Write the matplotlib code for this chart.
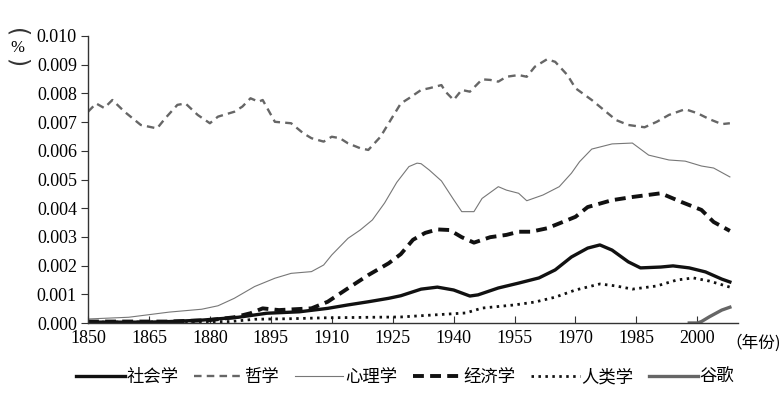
import matplotlib
matplotlib.use("Agg")
import matplotlib.pyplot as plt

plt.rcParams['font.family'] = ['Liberation Serif', 'Noto Sans CJK SC', 'DejaVu Sans']

# ---- data (values in %) ----
phil_years = [1850,1852,1854,1856,1859,1863,1867,1869,1872,1874,1877,1880,1882,1886,1888,1890,1892,1893,
              1896,1900,1903,1905,1908,1910,1912,1914,1917,1919,1922,1925,1927,1929,1932,1934,1937,1938,
              1940,1942,1944,1947,1949,1951,1953,1956,1958,1960,1963,1965,1968,1970,1974,1977,1980,1983,
              1987,1990,1993,1997,2000,2003,2006,2008]
phil_vals = [0.00736,0.00765,0.00749,0.00777,0.00736,0.00690,0.00678,0.00713,0.00760,0.00765,0.00725,
             0.00696,0.00719,0.00736,0.00754,0.00783,0.00771,0.00777,0.00701,0.00696,0.00661,0.00644,
             0.00632,0.00649,0.00644,0.00626,0.00609,0.00603,0.00649,0.00719,0.00765,0.00783,0.00812,
             0.00818,0.00829,0.00806,0.00777,0.00812,0.00806,0.00849,0.00847,0.00841,0.00858,0.00864,
             0.00858,0.00893,0.00919,0.00910,0.00864,0.00818,0.00777,0.00742,0.00707,0.00690,0.00682,
             0.00701,0.00725,0.00745,0.00731,0.00710,0.00693,0.00696]

psych_years = [1850,1860,1870,1878,1882,1886,1891,1896,1900,1905,1908,1910,1914,1917,1920,1923,1926,1929,
               1931,1932,1934,1937,1940,1942,1945,1947,1951,1953,1956,1958,1962,1966,1969,1971,1974,1979,
               1984,1988,1993,1997,2001,2004,2008]
psych_vals = [0.00014,0.00020,0.00038,0.00048,0.00060,0.00086,0.00127,0.00156,0.00173,0.00179,0.00202,
              0.00237,0.00295,0.00324,0.00359,0.00418,0.00490,0.00545,0.00557,0.00555,0.00533,0.00495,
              0.00430,0.00388,0.00388,0.00434,0.00475,0.00463,0.00452,0.00426,0.00446,0.00475,0.00522,
              0.00562,0.00606,0.00624,0.00627,0.00585,0.00568,0.00564,0.00547,0.00540,0.00509]

econ_years = [1850,1870,1880,1886,1890,1893,1897,1905,1909,1914,1919,1924,1927,1930,1933,1936,1939,1942,
              1945,1949,1953,1956,1959,1963,1966,1970,1973,1979,1984,1991,1996,2001,2004,2008]
econ_vals = [0.00005,0.00005,0.00010,0.00020,0.00034,0.00051,0.00045,0.00051,0.00074,0.00121,0.00167,
             0.00208,0.00240,0.00290,0.00314,0.00326,0.00324,0.00299,0.00280,0.00299,0.00307,0.00318,
             0.00318,0.00330,0.00347,0.00370,0.00404,0.00428,0.00439,0.00452,0.00422,0.00394,0.00352,
             0.00321]

soc_years = [1850,1865,1870,1878,1887,1894,1902,1909,1914,1919,1924,1927,1932,1936,1940,1944,1946,1951,
             1956,1961,1965,1969,1973,1976,1979,1983,1986,1991,1994,1998,2002,2006,2008]
soc_vals = [0.00003,0.00003,0.00005,0.00010,0.00020,0.00034,0.00039,0.00051,0.00063,0.00074,0.00086,
            0.00095,0.00118,0.00125,0.00115,0.00094,0.00098,0.00122,0.00139,0.00157,0.00185,0.00230,
            0.00261,0.00272,0.00254,0.00213,0.00192,0.00195,0.00199,0.00192,0.00178,0.00153,0.00143]

anth_years = [1850,1885,1891,1900,1908,1920,1927,1935,1943,1947,1955,1960,1965,1970,1976,1980,1984,1990,
              1995,1999,2003,2008]
anth_vals = [0.00003,0.00005,0.00013,0.00015,0.00018,0.00020,0.00021,0.00028,0.00035,0.00052,0.00063,
             0.00073,0.00090,0.00115,0.00136,0.00129,0.00118,0.00129,0.00150,0.00157,0.00146,0.00125]

goog_years = [1998,2000,2001,2003,2006,2008]
goog_vals = [0.0,0.0,0.00005,0.00022,0.00045,0.00055]

labels = ['社会学', '哲学', '心理学', '经济学', '人类学', '谷歌']
xticks = [1850,1865,1880,1895,1910,1925,1940,1955,1970,1985,2000]
yticks = [0.000,0.001,0.002,0.003,0.004,0.005,0.006,0.007,0.008,0.009,0.010]

# ---- figure ----
fig = plt.figure(figsize=(7.82, 3.96), dpi=100)
ax = fig.add_axes([88/782, 1-323/396, (738-88)/782, (323-36)/396])

styles = [
    dict(color='#111111', lw=2.4, ls='-'),
    dict(color='#666666', lw=1.7, dashes=(3.2, 2.2)),
    dict(color='#777777', lw=0.8, ls='-'),
    dict(color='#111111', lw=2.8, dashes=(2.8, 1.6)),
    dict(color='#111111', lw=2.0, dashes=(0.9, 1.6)),
    dict(color='#666666', lw=2.4, ls='-'),
]
series = [(soc_years, soc_vals), (phil_years, phil_vals), (psych_years, psych_vals),
          (econ_years, econ_vals), (anth_years, anth_vals), (goog_years, goog_vals)]

handles = []
for (xs, ys), st, lab in zip(series, styles, labels):
    ln, = ax.plot(xs, ys, label=lab, **st)
    handles.append(ln)

ax.set_xlim(1850, 2010)
ax.set_ylim(0, 0.010)
ax.set_xticks(xticks)
ax.set_yticks(yticks)
ax.set_yticklabels([f'{v:.3f}' for v in yticks])
for s in ['top', 'right']:
    ax.spines[s].set_visible(False)
for s in ['left', 'bottom']:
    ax.spines[s].set_color('#333333')
    ax.spines[s].set_linewidth(1.0)
ax.tick_params(axis='y', direction='out', length=5, labelsize=13, pad=3, color='#333333')
ax.tick_params(axis='x', direction='in', length=5, labelsize=13, pad=5, color='#333333')

fig.text(725/782, 1-343/396, '（年份)', fontsize=12, va='center', ha='left',
         family=['Noto Sans CJK SC'])
fig.text(17/782, 1-33/396, '(', fontsize=17, rotation=-90, va='center', ha='center',
         family=['DejaVu Sans'], color='#333333')
fig.text(17/782, 1-48/396, '%', fontsize=12, va='center', ha='center', family=['Liberation Serif'])
fig.text(17/782, 1-63/396, ')', fontsize=17, rotation=-90, va='center', ha='center',
         family=['DejaVu Sans'], color='#333333')

leg = fig.legend(handles=handles, labels=labels, loc='center', ncol=6,
                 bbox_to_anchor=(405/782, 1-377/396), frameon=False,
                 handlelength=2.8, handletextpad=0.1, columnspacing=0.9,
                 prop={'family': ['Noto Sans CJK SC'], 'size': 12.5})

fig.savefig('out.png', dpi=100)
